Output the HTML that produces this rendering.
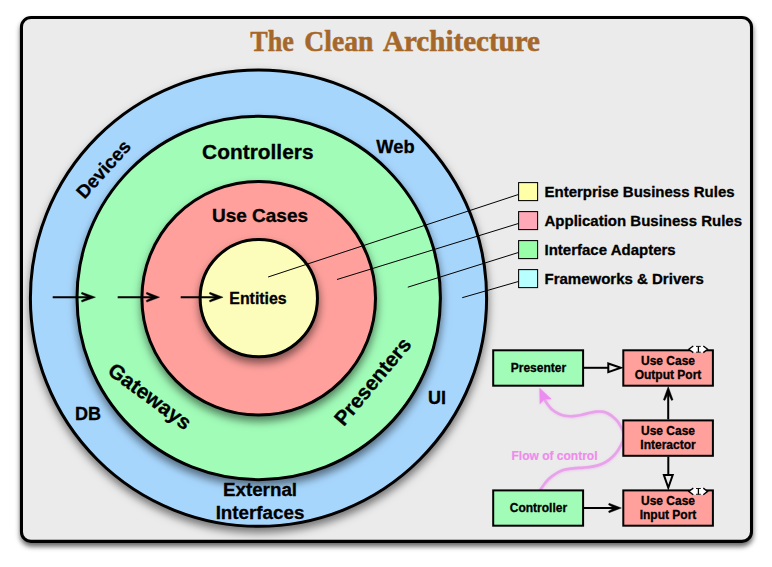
<!DOCTYPE html>
<html>
<head>
<meta charset="utf-8">
<title>The Clean Architecture</title>
<style>
html,body{margin:0;padding:0;background:#ffffff;}
body{width:772px;height:567px;overflow:hidden;}
svg{display:block;}
text{font-family:"Liberation Sans",sans-serif;font-weight:bold;fill:#000;stroke:#000;stroke-width:0.3px;}
.t12{font-size:12px;}
</style>
</head>
<body>
<svg width="772" height="567" viewBox="0 0 772 567">
  <defs>
    <filter id="sh" x="-10%" y="-10%" width="120%" height="120%">
      <feDropShadow dx="0.2" dy="3.6" stdDeviation="2.4" flood-color="#000" flood-opacity="0.6"/>
    </filter>
    <filter id="shc" x="-20%" y="-20%" width="140%" height="140%">
      <feDropShadow dx="0.5" dy="5" stdDeviation="4.5" flood-color="#000" flood-opacity="0.5"/>
    </filter>
    <filter id="shp" x="-20%" y="-20%" width="140%" height="140%">
      <feDropShadow dx="0.3" dy="0.6" stdDeviation="1.3" flood-color="#ee9af0" flood-opacity="0.55"/>
    </filter>
  </defs>
  <rect x="0" y="0" width="772" height="567" fill="#ffffff"/>

  <!-- frame -->
  <rect x="21.45" y="17.45" width="730.05" height="523.9" rx="9.6" ry="9.6" fill="#ebebeb" stroke="#000" stroke-width="3.05" filter="url(#sh)"/>

  <!-- title -->
  <g style='font-family:"Liberation Serif",serif;font-size:30.3px;fill:#a5682a;'>
    <text id="t1" x="250.3" y="51" style='font-family:"Liberation Serif",serif;fill:#a5682a;stroke:#a5682a;stroke-width:0.55px;' textLength="43.5" lengthAdjust="spacingAndGlyphs">The</text>
    <text id="t2" x="304.3" y="51" style='font-family:"Liberation Serif",serif;fill:#a5682a;stroke:#a5682a;stroke-width:0.55px;' textLength="69" lengthAdjust="spacingAndGlyphs">Clean</text>
    <text id="t3" x="383" y="51" style='font-family:"Liberation Serif",serif;fill:#a5682a;stroke:#a5682a;stroke-width:0.55px;' textLength="157" lengthAdjust="spacingAndGlyphs">Architecture</text>
  </g>

  <!-- circles -->
  <circle cx="258.5" cy="298.2" r="228.1" fill="#a7d6fd" stroke="#000" stroke-width="3" filter="url(#shc)"/>
  <circle cx="258.7" cy="297.95" r="181.7" fill="#a1fcb8" stroke="#000" stroke-width="3" filter="url(#shc)"/>
  <circle cx="258.7" cy="298.25" r="116.8" fill="#ffa09c" stroke="#000" stroke-width="3" filter="url(#shc)"/>
  <circle cx="258.8" cy="298.15" r="58.65" fill="#fdfdbb" stroke="#000" stroke-width="3" filter="url(#shc)"/>

  <!-- ring labels -->
  <text id="controllers" x="257.8" y="159.3" text-anchor="middle" font-size="20.9">Controllers</text>
  <text id="usecases" x="260" y="222.3" text-anchor="middle" font-size="19">Use Cases</text>
  <text id="entities" x="258" y="304" text-anchor="middle" font-size="15.9">Entities</text>
  <text id="web" x="395.5" y="152.9" text-anchor="middle" font-size="18.3">Web</text>
  <text id="db" x="88" y="419.6" text-anchor="middle" font-size="18">DB</text>
  <text id="ui" x="437" y="403.6" text-anchor="middle" font-size="18">UI</text>
  <text id="ext1" x="260" y="495.5" text-anchor="middle" font-size="18.8">External</text>
  <text id="ext2" x="260" y="518.7" text-anchor="middle" font-size="18.8">Interfaces</text>
  <text id="devices" transform="translate(108.2,173.5) rotate(-48)" x="0" y="0" text-anchor="middle" font-size="18.7">Devices</text>
  <text id="gateways" transform="translate(145.7,402) rotate(36.3)" x="0" y="0" text-anchor="middle" font-size="20.8">Gateways</text>
  <text id="presenters" transform="translate(378,386) rotate(-50)" x="0" y="0" text-anchor="middle" font-size="20.7">Presenters</text>

  <!-- inward arrows -->
  <g>
    <path d="M52.7,297.2H90.5" stroke="#000" stroke-width="2" fill="none"/><path d="M95.50,297.20 L81.90,292.30 L81.30,293.83 L88.30,297.20 L81.30,300.57 L81.90,302.10 Z" fill="#000" stroke="#000" stroke-width="0.4" stroke-linejoin="round"/>
    <path d="M117.7,297.2H154.6" stroke="#000" stroke-width="2" fill="none"/><path d="M159.60,297.20 L146.80,292.30 L146.20,293.83 L152.40,297.20 L146.20,300.57 L146.80,302.10 Z" fill="#000" stroke="#000" stroke-width="0.4" stroke-linejoin="round"/>
    <path d="M180.7,297.2H218.1" stroke="#000" stroke-width="2" fill="none"/><path d="M223.10,297.20 L209.90,292.30 L209.30,293.83 L215.90,297.20 L209.30,300.57 L209.90,302.10 Z" fill="#000" stroke="#000" stroke-width="0.4" stroke-linejoin="round"/>
  </g>

  <!-- legend lines -->
  <g stroke="#000" stroke-width="1" fill="none">
    <path d="M268.1,277 L518.4,194.5"/>
    <path d="M337,279.5 L518.4,223.5"/>
    <path d="M407.8,287.2 L518.4,252.5"/>
    <path d="M462.2,297.7 L518.4,281.5"/>
  </g>
  <!-- legend -->
  <g stroke="#000" stroke-width="1.05">
    <rect x="518.6" y="182.6" width="19" height="18" fill="#ffffa8"/>
    <rect x="518.6" y="211.6" width="19" height="18" fill="#ffa8b8"/>
    <rect x="518.6" y="240.6" width="19" height="18" fill="#98ffa8"/>
    <rect x="518.6" y="269.6" width="19" height="18" fill="#b8ffff"/>
  </g>
  <g font-size="15">
    <text id="l1" x="544.5" y="197.4">Enterprise Business Rules</text>
    <text id="l2" x="544.5" y="226.3">Application Business Rules</text>
    <text id="l3" x="544.5" y="255.3">Interface Adapters</text>
    <text id="l4" x="544.5" y="284.3">Frameworks &amp; Drivers</text>
  </g>

  <!-- flow of control -->
  <g filter="url(#shp)">
    <path d="M540.1,490.1 C541.0,488.8 543.6,484.8 545.5,482.5 C547.4,480.2 548.9,478.3 551.7,476.3 C554.5,474.3 558.8,471.6 562.3,470.3 C565.8,469.0 569.5,468.8 573.0,468.3 C576.5,467.9 580.3,467.9 583.5,467.6 C586.7,467.3 589.2,467.1 592.0,466.6 C594.8,466.1 597.8,465.5 600.4,464.5 C603.0,463.5 605.4,462.2 607.5,460.8 C609.6,459.4 611.4,457.8 613.1,456.2 C614.8,454.6 616.2,452.8 617.5,451.0 C618.8,449.2 619.8,447.3 620.7,445.6 C621.6,443.9 622.3,442.4 622.8,440.8 C623.2,439.2 623.4,437.7 623.4,436.1 C623.4,434.6 623.4,433.0 623.0,431.5 C622.6,430.0 622.1,428.8 621.2,427.2 C620.3,425.6 619.1,423.3 617.8,421.6 C616.4,419.9 614.7,418.4 613.1,417.0 C611.5,415.6 609.8,414.4 608.0,413.5 C606.2,412.6 604.5,412.0 602.5,411.7 C600.5,411.4 598.1,411.5 596.0,411.7 C593.9,411.9 592.3,412.2 589.8,412.8 C587.3,413.4 583.8,414.4 581.0,415.0 C578.2,415.6 575.6,416.1 572.9,416.2 C570.2,416.3 567.5,416.3 565.0,415.8 C562.5,415.3 560.3,414.4 558.1,413.4 C555.9,412.3 553.8,411.0 552.0,409.5 C550.2,408.0 548.8,406.0 547.5,404.3 C546.2,402.6 545.0,400.3 544.5,399.5" stroke="#e8a2ea" stroke-width="2.7" fill="none" stroke-linecap="round" stroke-linejoin="round"/>
    <path d="M539.7,388.2 L540,403.8 L544.2,399.2 L551.2,399 Z" fill="#ec8cee" stroke="#ec8cee" stroke-width="0.5" stroke-linejoin="round"/>
  </g>
  <text id="flow" x="511.5" y="459.5" class="t12" style="fill:#ef8ced;stroke:#ef8ced;stroke-width:0.2px;">Flow of control</text>

  <!-- boxes -->
  <g stroke="#000" stroke-width="2">
    <rect x="493.2" y="350.3" width="89.9" height="35.4" fill="#a1fcb8"/>
    <rect x="623.3" y="350.3" width="89.6" height="35.4" fill="#ffa09c"/>
    <rect x="623.3" y="420.4" width="89.6" height="35.4" fill="#ffa09c"/>
    <rect x="493.2" y="490.4" width="89.9" height="35.3" fill="#a1fcb8"/>
    <rect x="623.3" y="490.4" width="89.6" height="35.3" fill="#ffa09c"/>
  </g>
  <g class="t12" text-anchor="middle">
    <text id="b1" x="538.4" y="372.3">Presenter</text>
    <text id="b2a" x="668" y="364.6">Use Case</text>
    <text id="b2b" x="668" y="378.9">Output Port</text>
    <text id="b3a" x="668" y="434.6">Use Case</text>
    <text id="b3b" x="668" y="448.9">Interactor</text>
    <text id="b4" x="538.4" y="512.3">Controller</text>
    <text id="b5a" x="668" y="505.3">Use Case</text>
    <text id="b5b" x="668" y="518.7">Input Port</text>
  </g>

  <!-- <I> markers -->
  <g>
    <polygon points="688.5,349.3 693.3,346.0 703.3,346.0 707.9,349.3 703.3,352.6 693.3,352.6" fill="#fff"/>
    <path d="M693.3,346.0 L688.8,349.3 L693.3,352.6 M703.3,346.0 L707.6,349.3 L703.3,352.6" fill="none" stroke="#000" stroke-width="1.35"/>
    <path d="M696,346.4H700.8 M696,352.2H700.8" fill="none" stroke="#000" stroke-width="0.9"/>
    <path d="M698.4,346.4V352.2" fill="none" stroke="#000" stroke-width="1.3"/>
    <polygon points="688.5,491.4 693.3,488.1 703.3,488.1 707.9,491.4 703.3,494.7 693.3,494.7" fill="#fff"/>
    <path d="M693.3,488.1 L688.8,491.4 L693.3,494.7 M703.3,488.1 L707.6,491.4 L703.3,494.7" fill="none" stroke="#000" stroke-width="1.35"/>
    <path d="M696,488.5H700.8 M696,494.3H700.8" fill="none" stroke="#000" stroke-width="0.9"/>
    <path d="M698.4,488.5V494.3" fill="none" stroke="#000" stroke-width="1.3"/>
  </g>

  <!-- connectors -->
  <g stroke="#000" stroke-width="2" fill="none">
    <!-- presenter -> output port (hollow triangle) -->
    <path d="M584,367.8H609"/>
    <path d="M608.3,363.5 L620.8,367.8 L608.3,372.1 Z" fill="#ebebeb"/>
    <!-- interactor -> output port (stick arrow up) -->
    <path d="M668.2,419.5V392"/>
    <!-- interactor -> input port (hollow triangle down) -->
    <path d="M668.3,456.5V475.5"/>
    <path d="M663.9,475.1 L668.3,487.8 L672.7,475.1 Z" fill="#ebebeb"/>
    <!-- controller -> input port (stick arrow) -->
    <path d="M584,508H616"/>
  </g>
  <g fill="#000" stroke="#000" stroke-width="0.4" stroke-linejoin="round">
    <path d="M668.20,386.60 L663.35,399.80 L664.88,400.40 L668.20,393.80 L671.52,400.40 L673.05,399.80 Z"/>
    <path d="M621.40,508.00 L609.10,503.25 L608.50,504.78 L614.20,508.00 L608.50,511.22 L609.10,512.75 Z"/>
  </g>
</svg>
</body>
</html>
